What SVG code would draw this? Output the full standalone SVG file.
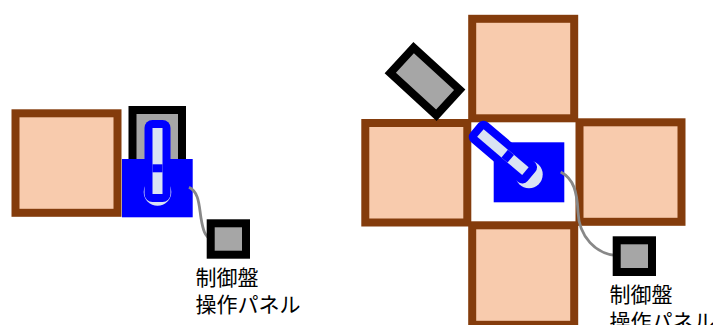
<svg xmlns="http://www.w3.org/2000/svg" width="713" height="325" viewBox="0 0 713 325">
<style>
.room{fill:#f8cbad;stroke:#843c0c;stroke-width:8}
.panel{fill:#a6a6a6;stroke:#000;stroke-width:8}
.base{fill:#00f}
.arm-outer{fill:#00f}
.arm-inner{fill:#dae3f3}
.pivot{fill:#dae3f3}
.gap{stroke:#00f;stroke-width:8}
.wire{fill:none;stroke:#888;stroke-width:2.8}
text{font-family:"Noto Sans CJK JP","Noto Sans",sans-serif;font-size:21px;fill:#000}
</style>
<rect width="713" height="325" fill="#fff"/>
<g id="left-room"><rect class="room" x="15.5" y="113.3" width="102" height="99.5"/></g>
<g id="left-panel"><rect class="panel" x="132.5" y="110" width="49.5" height="60"/></g>
<g id="left-machine">
<rect class="base" x="122" y="159" width="70.7" height="58.3"/>
<circle class="pivot" cx="157.5" cy="192" r="13.8"/>
<rect class="arm-outer" x="144.5" y="120" width="26" height="82" rx="8"/>
<rect class="arm-inner" x="152.5" y="128" width="10" height="66"/>
<path class="gap" d="M152.5 168.3H162.5"/>
</g>
<g id="room-top"><rect class="room" x="472.2" y="18.8" width="102" height="99.5"/></g>
<g id="room-bottom"><rect class="room" x="472.2" y="225.3" width="102" height="99.5"/></g>
<g id="room-left"><rect class="room" x="365.3" y="123" width="102" height="99.5"/></g>
<g id="room-right"><rect class="room" x="579.5" y="122.3" width="102" height="99.5"/></g>
<g id="right-panel"><rect class="panel" x="-31.25" y="-17.3" width="62.5" height="34.6" transform="translate(425 81.4) rotate(42.5)"/></g>
<g id="right-machine">
<rect class="base" x="493.7" y="142.3" width="70.6" height="60"/>
<circle class="pivot" cx="529" cy="174.5" r="13.7"/>
<g transform="translate(502.9 152.1) rotate(-49.7)">
<rect class="arm-outer" x="-13" y="-37.5" width="26" height="75" rx="7"/>
<rect class="arm-inner" x="-5" y="-29.5" width="10" height="59"/>
<path class="gap" d="M-5 6.3H5"/>
</g>
</g>
<g id="connectors">
<path class="wire" d="M189 187.3C199 192 199 205 201 218C203 230 205 237 211 239"/>
<path class="wire" d="M560.7 172C574 179 577 192 578 212C579 237 596 254 617 255.7"/>
</g>
<g id="left-control"><rect class="panel" x="210.7" y="223.3" width="35.3" height="31.4"/>
<text x="195.5" y="285">制御盤</text><text x="195.5" y="312">操作パネル</text></g>
<g id="right-control"><rect class="panel" x="616.7" y="240.3" width="35.3" height="31.7"/>
<text x="609.5" y="302">制御盤</text><text x="609.5" y="329">操作パネル</text></g>
</svg>
